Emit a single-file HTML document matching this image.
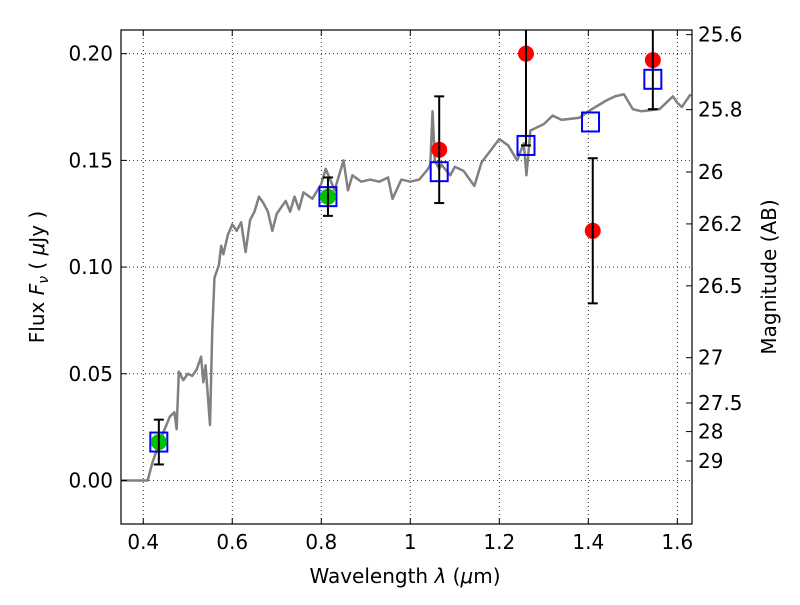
<!DOCTYPE html>
<html><head><meta charset="utf-8"><style>
body{margin:0;background:#fff}
svg{font-family:"DejaVu Sans","Liberation Sans",sans-serif}
</style></head><body>
<svg id="chart" width="800" height="600">
<rect x="0" y="0" width="800" height="600" fill="#fff"/>
<g id="grid"></g>
<g id="spec"></g>
<g id="marks"></g>
<rect x="121" y="30" width="571" height="494" fill="none" stroke="#000" stroke-width="1.2"/>
<g id="axes"></g>
<text x="405" y="583" font-size="20" text-anchor="middle">Wavelength  <tspan font-style="italic">λ</tspan> (<tspan font-style="italic">μ</tspan>m)</text>
<text transform="translate(44,277) rotate(-90)" font-size="20" text-anchor="middle">Flux  <tspan font-style="italic">F<tspan font-size="14" dy="4">ν</tspan></tspan><tspan dy="-4">  ( </tspan><tspan font-style="italic">μ</tspan>Jy )</text>
<text transform="translate(776,277) rotate(-90)" font-size="20" text-anchor="middle">Magnitude (AB)</text>
</svg>
<script>
const specWave=[0.35,0.41,0.42,0.44,0.45,0.46,0.47,0.475,0.48,0.49,0.50,0.51,0.52,0.53,0.535,0.54,0.55,0.555,0.56,0.57,0.575,0.58,0.59,0.60,0.61,0.62,0.63,0.64,0.65,0.66,0.67,0.68,0.69,0.70,0.72,0.73,0.74,0.75,0.76,0.78,0.80,0.81,0.82,0.83,0.84,0.85,0.86,0.87,0.89,0.91,0.93,0.95,0.96,0.98,1.0,1.02,1.04,1.045,1.05,1.055,1.065,1.07,1.09,1.1,1.12,1.144,1.16,1.2,1.22,1.24,1.255,1.261,1.27,1.3,1.32,1.34,1.38,1.4,1.44,1.46,1.48,1.5,1.52,1.56,1.59,1.6,1.61,1.63];
const specFlux=[0,0,0.008,0.02,0.025,0.03,0.032,0.024,0.051,0.047,0.05,0.049,0.052,0.058,0.046,0.054,0.026,0.07,0.095,0.101,0.11,0.106,0.115,0.12,0.117,0.121,0.107,0.122,0.126,0.133,0.13,0.126,0.117,0.125,0.131,0.126,0.133,0.127,0.135,0.132,0.139,0.146,0.141,0.136,0.143,0.15,0.136,0.143,0.14,0.141,0.14,0.142,0.132,0.141,0.14,0.141,0.146,0.148,0.173,0.15,0.146,0.148,0.143,0.147,0.145,0.138,0.149,0.16,0.157,0.15,0.158,0.143,0.164,0.167,0.171,0.169,0.17,0.173,0.178,0.18,0.181,0.174,0.173,0.174,0.18,0.177,0.175,0.181];
const modelWave=[0.435,0.815,1.065,1.26,1.405,1.545];
const modelFlux=[0.018,0.133,0.1447,0.157,0.168,0.188];
const obsWave=[1.065,1.26,1.41,1.545];
const obsFlux=[0.155,0.20,0.117,0.197];
const obsErr=[0.025,0.043,0.034,0.023];
const greenWave=[0.435,0.815];
const greenFlux=[0.018,0.133];
const greenErr=[0.0105,0.009];
const xTicks=[0.4,0.6,0.8,1,1.2,1.4,1.6];
const xTickLabels=["0.4","0.6","0.8","1","1.2","1.4","1.6"];
const yTicks=[0,0.05,0.10,0.15,0.20];
const yTickLabels=["0.00","0.05","0.10","0.15","0.20"];
const magTicks=[25.6,25.8,26,26.2,26.5,27,27.5,28,29];
const magTickLabels=["25.6","25.8","26","26.2","26.5","27","27.5","28","29"];

const X0=121,X1=692,Y0=524,Y1=30,xmin=0.35,xmax=1.633,ymin=-0.0204,ymax=0.2111;
const sx=v=>X0+(v-xmin)/(xmax-xmin)*(X1-X0);
const sy=v=>Y0-(v-ymin)/(ymax-ymin)*(Y0-Y1);
const NS="http://www.w3.org/2000/svg";
function mk(tag,attrs,parent){const e=document.createElementNS(NS,tag);for(const k in attrs)e.setAttribute(k,attrs[k]);parent.appendChild(e);return e;}
const grid=document.getElementById('grid'),axes=document.getElementById('axes'),spec=document.getElementById('spec'),marks=document.getElementById('marks');
xTicks.forEach((t,i)=>{const x=sx(t);
 const g=mk('line',{x1:x,x2:x,y1:Y1,y2:Y0,stroke:'#000','stroke-width':0.8,'stroke-dasharray':'1,3'},grid);
 
 mk('line',{x1:x,x2:x,y1:Y0,y2:Y0-6,stroke:'#000'},axes);
 mk('line',{x1:x,x2:x,y1:Y1,y2:Y1+6,stroke:'#000'},axes);
 const tx=mk('text',{x:x,y:Y0+25,'font-size':20,'text-anchor':'middle'},axes);tx.textContent=xTickLabels[i];
 });
yTicks.forEach((t,i)=>{const y=sy(t);
 const g=mk('line',{x1:X0,x2:X1,y1:y,y2:y,stroke:'#000','stroke-width':0.8,'stroke-dasharray':'1,3'},grid);
 
 mk('line',{x1:X0,x2:X0+6,y1:y,y2:y,stroke:'#000'},axes);
 const tx=mk('text',{x:X0-8,y:y+7,'font-size':20,'text-anchor':'end'},axes);tx.textContent=yTickLabels[i];
 });
magTicks.forEach((m,i)=>{const y=sy(Math.pow(10,(23.9-m)/2.5));
 mk('line',{x1:X1,x2:X1-6,y1:y,y2:y,stroke:'#000'},axes);
 const tx=mk('text',{x:X1+6,y:y+7,'font-size':20},axes);tx.textContent=magTickLabels[i];
 });
const clip=mk('clipPath',{id:'pc'},document.getElementById('chart'));mk('rect',{x:X0,y:Y1,width:X1-X0,height:Y0-Y1},clip);
spec.setAttribute('clip-path','url(#pc)');marks.setAttribute('clip-path','url(#pc)');
const p=mk('polyline',{points:specWave.map((w,i)=>sx(w)+','+sy(specFlux[i])).join(' '),fill:'none',stroke:'#808080','stroke-width':2.5,'stroke-linejoin':'round'},spec);

function errbar(x,v,e){const y1=sy(v-e),y2=sy(v+e);
 mk('line',{x1:x,x2:x,y1:y1,y2:y2,stroke:'#000','stroke-width':2},marks);
 mk('line',{x1:x-5,x2:x+5,y1:y1,y2:y1,stroke:'#000','stroke-width':2},marks);
 mk('line',{x1:x-5,x2:x+5,y1:y2,y2:y2,stroke:'#000','stroke-width':2},marks);}
modelWave.forEach((w,i)=>{const s=mk('rect',{x:sx(w)-8.5,y:sy(modelFlux[i])-9.5,width:17,height:19,fill:'none',stroke:'#0000ff','stroke-width':2},marks);
 });
greenWave.forEach((w,i)=>{const c=mk('circle',{cx:sx(w),cy:sy(greenFlux[i]),r:8,fill:'#00c000'},marks);
 
 errbar(sx(w),greenFlux[i],greenErr[i]);});
obsWave.forEach((w,i)=>{const c=mk('circle',{cx:sx(w),cy:sy(obsFlux[i]),r:8,fill:'#ff0000'},marks);
 
 errbar(sx(w),obsFlux[i],obsErr[i]);});
</script>
</body></html>
